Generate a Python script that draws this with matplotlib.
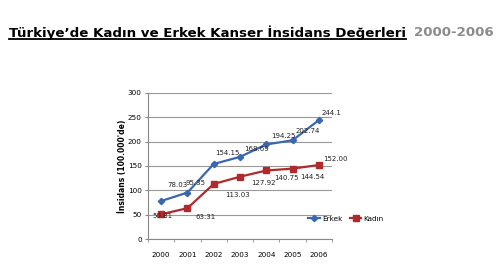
import matplotlib
matplotlib.use("Agg")
import matplotlib.pyplot as plt
from matplotlib.lines import Line2D
from matplotlib import font_manager

years = ["2000", "2001", "2002", "2003", "2004", "2005", "2006"]
erkek = [78.03, 95.35, 154.15, 168.69, 194.25, 202.74, 244.1]
kadin = [50.81, 63.31, 113.03, 127.92, 140.75, 144.54, 152.00]
erkek_labels = ["78.03", "95.35", "154.15", "168.69", "194.25", "202.74", "244.1"]
kadin_labels = ["50.81", "63.31", "113.03", "127.92", "140.75", "144.54", "152.00"]

# label offsets in pixels (dx, dy), dy positive = up
erkek_off = [(16, 16), (8, 10), (14, 11), (17, 8), (17, 8), (15, 9), (13, 7)]
kadin_off = [(1, -2), (18, -9), (24, -11), (23, -6), (20, -8), (20, -8), (17, 6)]

blue = "#3A68B0"
red = "#B02A2C"

names = {f.name for f in font_manager.fontManager.ttflist}
title_font = "Liberation Sans Narrow" if "Liberation Sans Narrow" in names else "DejaVu Sans"

fig = plt.figure(figsize=(5, 2.73), dpi=100)
ax = fig.add_axes([0.296, 0.1245, 0.368, 0.535])

x = list(range(len(years)))
ax.plot(x, erkek, color=blue, lw=1.6, marker="D", ms=3.2, label="Erkek", zorder=3)
ax.plot(x, kadin, color=red, lw=1.6, marker="s", ms=4.5, label="Kadın", zorder=3)

for xi, v, t, (dx, dy) in zip(x, erkek, erkek_labels, erkek_off):
    ax.annotate(t, (xi, v), xytext=(dx, dy), textcoords="offset pixels",
                ha="center", va="center", fontsize=5, color="#222222")
for xi, v, t, (dx, dy) in zip(x, kadin, kadin_labels, kadin_off):
    ax.annotate(t, (xi, v), xytext=(dx, dy), textcoords="offset pixels",
                ha="center", va="center", fontsize=5, color="#222222")

ax.set_xlim(-0.5, 6.5)
ax.set_ylim(0, 300)
ax.set_yticks(range(0, 301, 50))
ax.set_xticks(x)
ax.set_xticklabels(years)
ax.set_xticks([i - 0.5 for i in range(8)], minor=True)
ax.tick_params(axis="x", which="major", length=0, pad=9, labelsize=5.2)
ax.tick_params(axis="x", which="minor", length=2.5, color="#888888")
ax.tick_params(axis="y", length=2.5, color="#888888", labelsize=5.2, pad=2)
ax.grid(axis="y", color="#999999", lw=0.8)
ax.set_axisbelow(True)
for s in ["top", "right"]:
    ax.spines[s].set_visible(False)
ax.spines["left"].set_color("#888888")
ax.spines["bottom"].set_color("#888888")

fig.text(0.244, 1 - 166 / 273, "İnsidans (100.000'de)", rotation=90,
         ha="center", va="center", fontsize=5.5, fontweight="bold")

fig.legend(loc="center", bbox_to_anchor=(0.692, 0.198), ncol=2, frameon=False,
           fontsize=5.2, handlelength=1.6, columnspacing=1.0, handletextpad=0.3)

# title: black part underlined, years in gray
W = 500
fs = 10
t1 = fig.text(9 / W, 1 - 36.5 / 273, "Türkiye’de Kadın ve Erkek Kanser İnsidans Değerleri",
              fontsize=fs, fontweight="bold", ha="left", va="baseline",
              family=[title_font, "DejaVu Sans"])
t2 = fig.text(411 / W, 1 - 36.5 / 273, "2000-2006", fontsize=fs, fontweight="bold",
              ha="left", va="baseline", color="#8C8C8C", family=[title_font, "DejaVu Sans"])
fig.canvas.draw()
r = fig.canvas.get_renderer()
w1 = t1.get_window_extent(r).width
scale = 397 / w1
t1.set_fontsize(fs * scale)
t2.set_fontsize(fs * scale)
fig.canvas.draw()
b2 = t2.get_window_extent(r)
t2.set_x((494 - b2.width) / W)
fig.add_artist(Line2D([9 / W, 406 / W], [1 - 39 / 273] * 2, color="black", lw=1.3,
                      transform=fig.transFigure))

fig.savefig("out.png", dpi=100)
